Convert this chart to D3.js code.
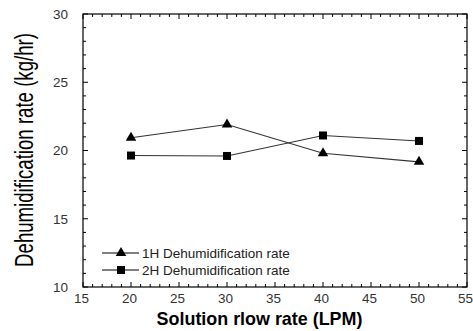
<!DOCTYPE html>
<html><head><meta charset="utf-8">
<script src="https://cdn.jsdelivr.net/npm/d3@7"></script>
<style>body{margin:0;background:#fff}svg{display:block}text{font-family:"Liberation Sans",Arial,sans-serif}</style>
</head><body><svg id="c" width="473" height="331"></svg>
<script>
const flowRates = [20, 30, 40, 50];
const rate1H = [20.93, 21.9, 19.8, 19.17];
const rate2H = [19.63, 19.6, 21.1, 20.7];
const seriesNames = ["1H Dehumidification rate", "2H Dehumidification rate"];
const xTicks = [15, 20, 25, 30, 35, 40, 45, 50, 55];
const yTicks = [10, 15, 20, 25, 30];
const xTitle = "Solution rlow rate (LPM)";
const yTitle = "Dehumidification rate (kg/hr)";

const svg = d3.select("#c");
const L = 83, R = 467, T = 14, B = 287;
const x = d3.scaleLinear().domain([15, 55]).range([L, R]);
const y = d3.scaleLinear().domain([10, 30]).range([B, T]);

const g = svg.append("g");
g.append("rect").attr("x", L).attr("y", T).attr("width", R - L).attr("height", B - T)
  .attr("fill", "none").attr("stroke", "#000").attr("stroke-width", 1.2);

const minorX = d3.range(15, 56, 1), minorY = d3.range(10, 31, 1);
function tickLen(v){ return v % 5 === 0 ? 5 : 3; }
minorX.forEach(v => {
  g.append("line").attr("x1", x(v)).attr("x2", x(v)).attr("y1", B).attr("y2", B - tickLen(v)).attr("stroke", "#000");
  g.append("line").attr("x1", x(v)).attr("x2", x(v)).attr("y1", T).attr("y2", T + tickLen(v)).attr("stroke", "#000");
});
minorY.forEach(v => {
  g.append("line").attr("y1", y(v)).attr("y2", y(v)).attr("x1", L).attr("x2", L + tickLen(v)).attr("stroke", "#000");
  g.append("line").attr("y1", y(v)).attr("y2", y(v)).attr("x1", R).attr("x2", R - tickLen(v)).attr("stroke", "#000");
});
const xa = svg.append("g").attr("transform", `translate(-2,${B})`)
  .call(d3.axisBottom(x).tickValues(xTicks).tickSize(0).tickPadding(6).tickFormat(d3.format("d")));
xa.select(".domain").remove();
xa.selectAll("text").attr("font-size", 13.5).attr("fill", "#333").attr("font-family", "Liberation Sans, Arial");
const ya = svg.append("g").attr("transform", `translate(${L},0)`)
  .call(d3.axisLeft(y).tickValues(yTicks).tickSize(0).tickPadding(15).tickFormat(d3.format("d")));
ya.select(".domain").remove();
ya.selectAll("text").attr("font-size", 13.5).attr("fill", "#333").attr("font-family", "Liberation Sans, Arial");

function fitText(sel, target, base){
  const w = sel.node().getComputedTextLength();
  sel.attr("transform", base + ` scale(${target / w},1)`);
}
const xt = svg.append("text").attr("text-anchor", "middle")
  .attr("font-size", 18).attr("font-weight", "bold").attr("fill", "#000").text(xTitle);
fitText(xt, 206, "translate(259.5,325)");
const yt = svg.append("text").attr("text-anchor", "middle")
  .attr("font-size", 25).attr("fill", "#000").text(yTitle);
fitText(yt, 234, "translate(33,150) rotate(-90)");

const line = d3.line().x((d, i) => x(flowRates[i])).y(d => y(d));
const tri = d3.symbol().type(d3.symbolTriangle).size(48);
const sq = d3.symbol().type(d3.symbolSquare).size(64);
[[rate1H, tri], [rate2H, sq]].forEach(([vals, sym]) => {
  svg.append("path").attr("d", line(vals)).attr("fill", "none").attr("stroke", "#333").attr("stroke-width", 1.1);
  svg.selectAll(null).data(vals).enter().append("path")
    .attr("d", sym).attr("transform", (d, i) => `translate(${x(flowRates[i])},${y(d)})`).attr("fill", "#000");
});

const legY = [253, 270];
[tri, sq].forEach((sym, i) => {
  svg.append("line").attr("x1", 102).attr("x2", 139).attr("y1", legY[i]).attr("y2", legY[i]).attr("stroke", "#000");
  svg.append("path").attr("d", sym).attr("transform", `translate(121,${legY[i]})`).attr("fill", "#000");
  const t = svg.append("text").attr("font-size", 12.5).attr("fill", "#222").text(seriesNames[i]);
  fitText(t, 148, `translate(142,${legY[i] + 4.5})`);
});
</script></body></html>
